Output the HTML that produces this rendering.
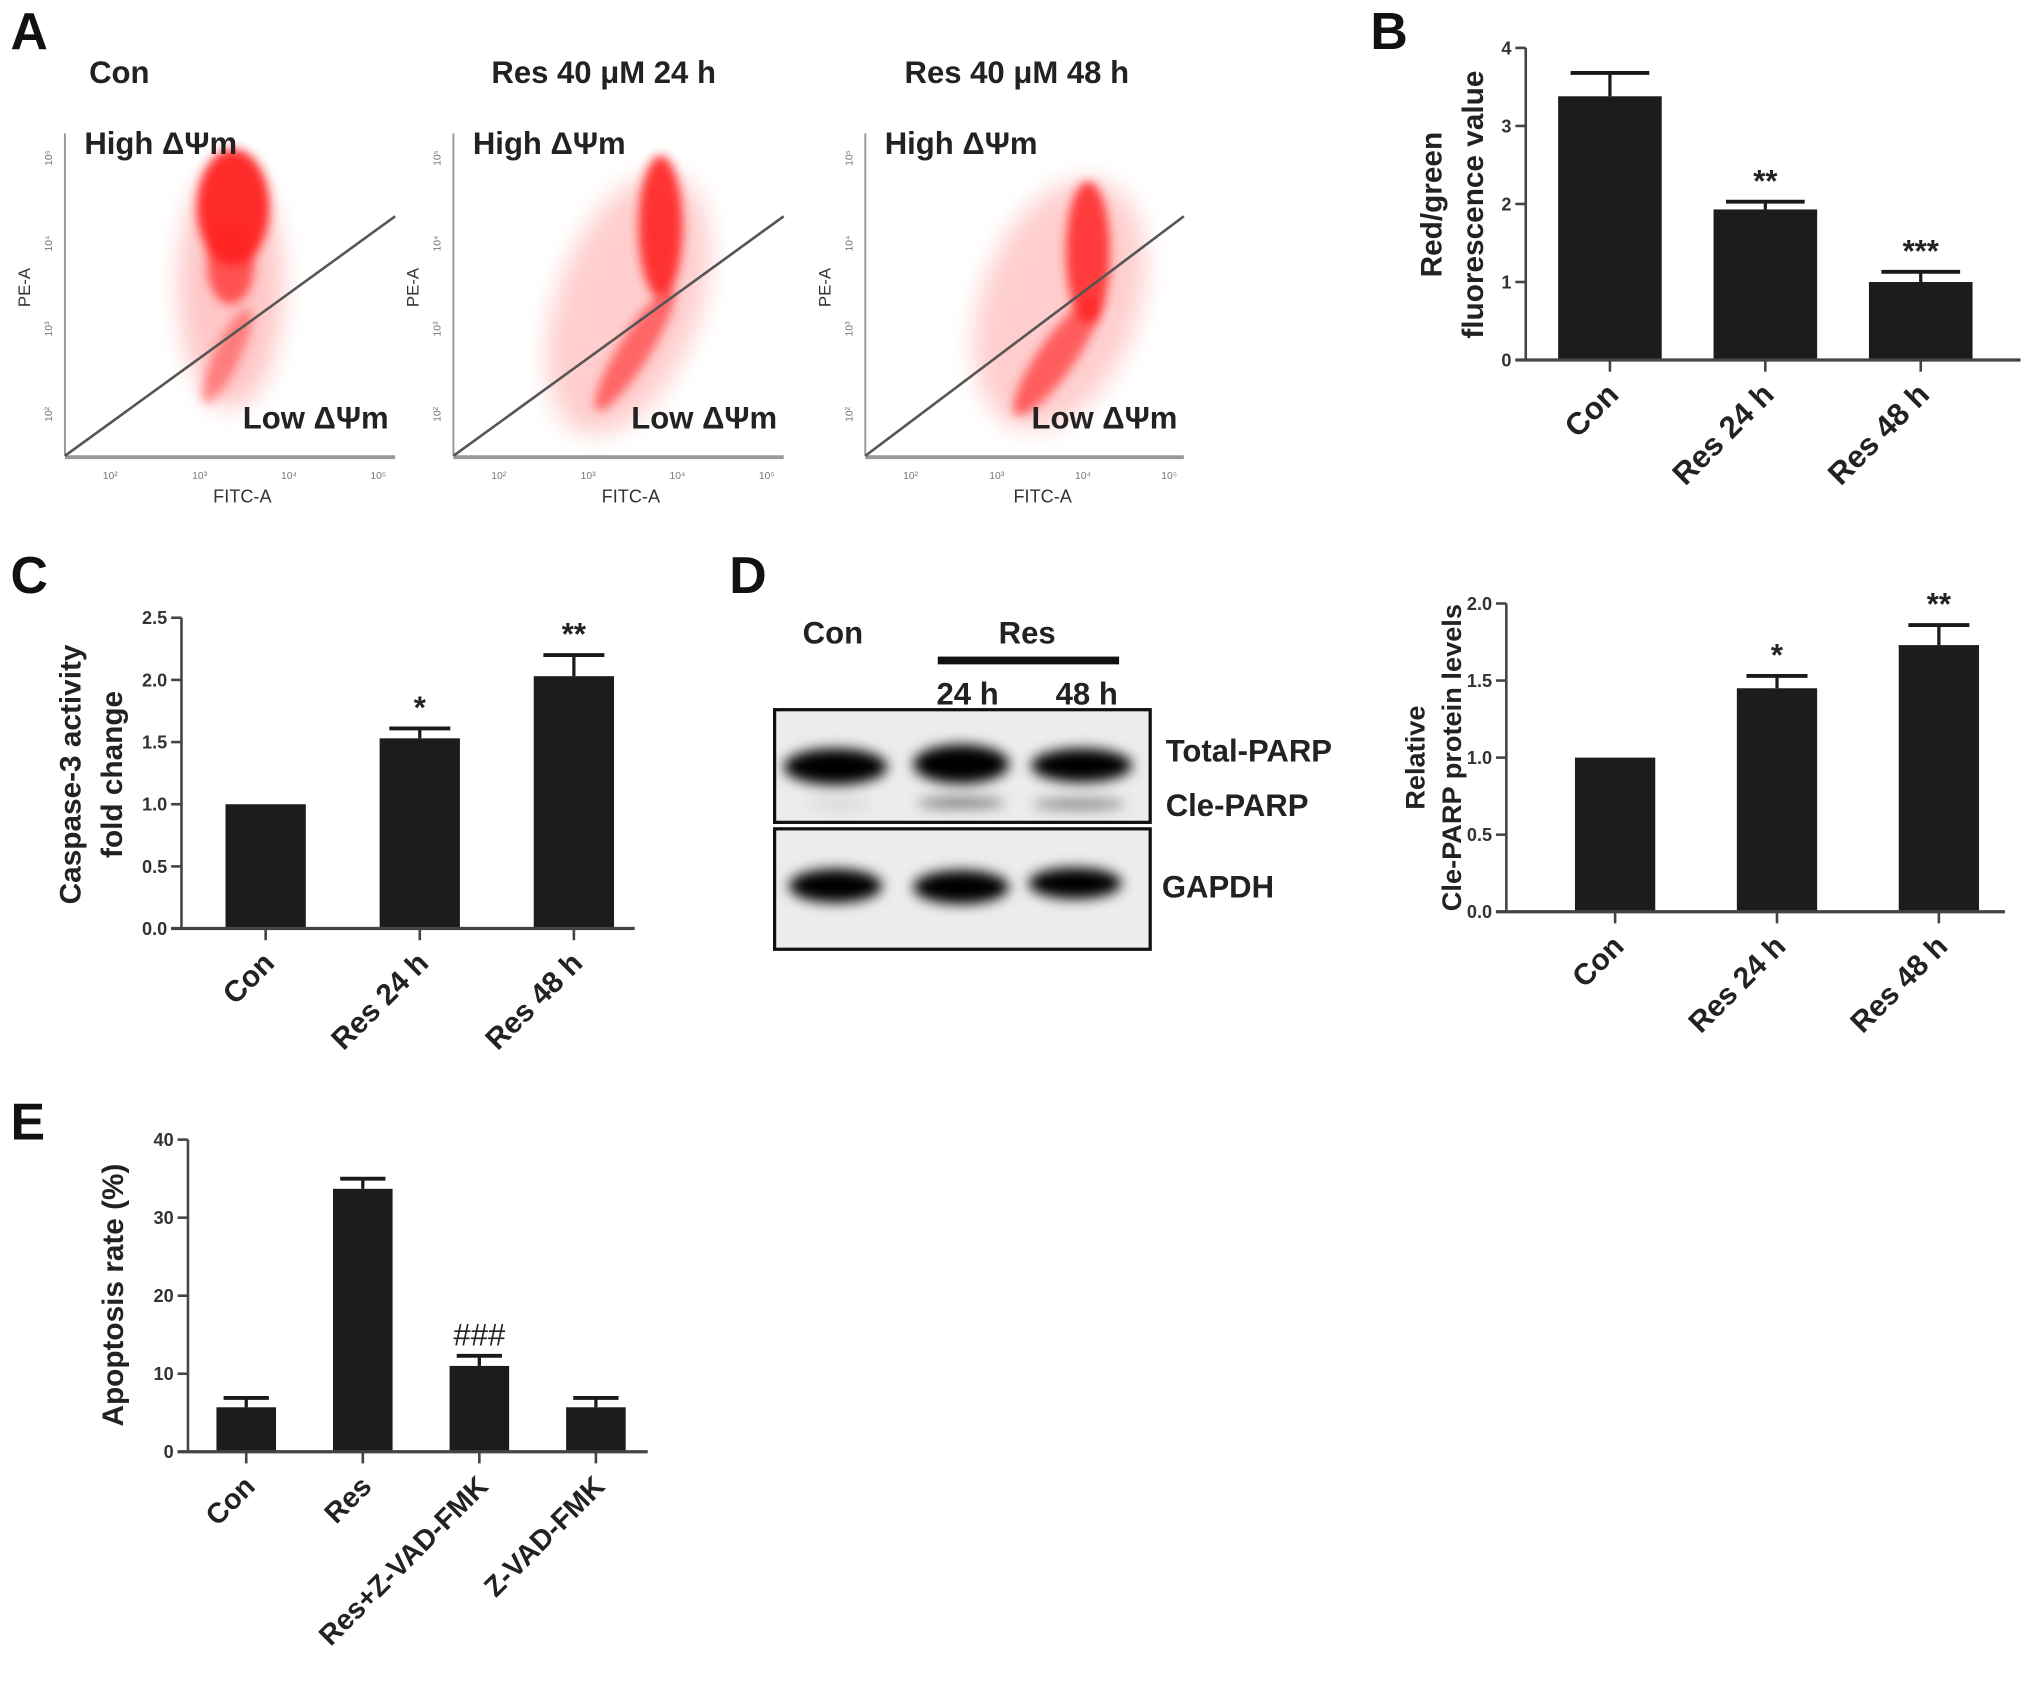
<!DOCTYPE html>
<html><head><meta charset="utf-8"><title>Figure</title>
<style>
html,body{margin:0;padding:0;background:#fff;}
svg{display:block;font-family:"Liberation Sans",Arial,sans-serif;}
</style></head>
<body>
<svg id="fig" width="2031" height="1703" viewBox="0 0 1568 1315" xmlns="http://www.w3.org/2000/svg">
<defs>
<filter id="blur4" x="-50%" y="-50%" width="200%" height="200%"><feGaussianBlur stdDeviation="4"/></filter>
<filter id="blur8" x="-50%" y="-50%" width="200%" height="200%"><feGaussianBlur stdDeviation="9"/></filter>
<filter id="blurb" x="-50%" y="-50%" width="200%" height="200%"><feGaussianBlur stdDeviation="5"/></filter>
</defs>
<g id="root"></g>
</svg>
<script>
// ---- Panel B data ----
const bCats = ["Con", "Res 24 h", "Res 48 h"];
const bVals = [3.38, 1.93, 1.00];
const bErrs = [0.30, 0.10, 0.13];
const bStars = ["", "**", "***"];
const bTicks = [0, 1, 2, 3, 4];
// ---- Panel C data ----
const cCats = ["Con", "Res 24 h", "Res 48 h"];
const cVals = [1.00, 1.53, 2.03];
const cErrs = [0, 0.08, 0.17];
const cStars = ["", "*", "**"];
const cTicks = [0, 0.5, 1.0, 1.5, 2.0, 2.5];
// ---- Panel D chart data ----
const dCats = ["Con", "Res 24 h", "Res 48 h"];
const dVals = [1.00, 1.45, 1.73];
const dErrs = [0, 0.08, 0.13];
const dStars = ["", "*", "**"];
const dTicks = [0, 0.5, 1.0, 1.5, 2.0];
// ---- Panel E data ----
const eCats = ["Con", "Res", "Res+Z-VAD-FMK", "Z-VAD-FMK"];
const eVals = [5.7, 33.7, 11.0, 5.7];
const eErrs = [1.2, 1.3, 1.3, 1.2];
const eStars = ["", "", "###", ""];
const eTicks = [0, 10, 20, 30, 40];

const NS = "http://www.w3.org/2000/svg";
const root = document.getElementById('root');
function mk(tag, attrs, parent, text) {
  const e = document.createElementNS(NS, tag);
  for (const k in attrs) e.setAttribute(k, attrs[k]);
  if (text !== undefined) e.textContent = text;
  (parent || root).appendChild(e);
  return e;
}

function barChart(o) {
  const g = mk('g', {});
  
  
  const max = o.ticks[o.ticks.length - 1];
  const y = v => o.y0 - (v / max) * (o.y0 - o.yTop);
  const x = i => o.xFirst + i * o.step;
  o.vals.forEach((v, i) => {
    const cx = x(i);
    const top = y(v + o.errs[i]);
    if (o.errs[i] > 0) {
      const el = mk('line', {x1: cx, x2: cx, y1: y(v), y2: top, stroke: '#1a1a1a', 'stroke-width': 2.5}, g);
      
      
      const cap = mk('line', {x1: cx - o.bw * 0.38, x2: cx + o.bw * 0.38, y1: top, y2: top, stroke: '#1a1a1a', 'stroke-width': 3}, g);
      
      
    }
    const r = mk('rect', {x: cx - o.bw / 2, y: y(v), width: o.bw, height: o.y0 - y(v), fill: '#1c1c1c'}, g);
    
    
    if (o.stars[i]) {
      const s = mk('text', {x: cx, y: top - 8, 'text-anchor': 'middle', 'font-size': o.starSize || 24, fill: '#222', 'font-weight': o.starBold === false ? 'normal' : 'bold'}, g, o.stars[i]);
      
      
    }
    const t = mk('line', {x1: cx, x2: cx, y1: o.y0, y2: o.y0 + 9, stroke: '#444', 'stroke-width': 2}, g);
    
    
    const lab = mk('text', {x: cx + 8, y: o.y0 + 28, 'text-anchor': 'end', 'font-size': o.catSize || 22, 'font-weight': 'bold', fill: '#222', transform: `rotate(-45 ${cx + 8} ${o.y0 + 28})`}, g, o.cats[i]);
    
    
  });
  const ya = mk('line', {x1: o.xAxis, x2: o.xAxis, y1: o.yTop, y2: o.y0, stroke: '#444', 'stroke-width': 2}, g);
  
  
  const xa = mk('line', {x1: o.xAxis - 8, x2: o.xEnd, y1: o.y0, y2: o.y0, stroke: '#444', 'stroke-width': 2.5}, g);
  
  
  o.ticks.forEach(tv => {
    const ty = y(tv);
    const tl = mk('line', {x1: o.xAxis - 8, x2: o.xAxis, y1: ty, y2: ty, stroke: '#444', 'stroke-width': 2}, g);
    
    
    const tt = mk('text', {x: o.xAxis - 11, y: ty + 5, 'text-anchor': 'end', 'font-size': 14, 'font-weight': 'bold', fill: '#333'}, g, o.fmt ? tv.toFixed(1) : String(tv));
    
    
  });
  const cy = o.titleY;
  o.title.forEach((line, k) => {
    const tx = o.titleX[k];
    const yt = mk('text', {x: tx, y: cy, 'text-anchor': 'middle', 'font-size': o.titleSize || 23, 'font-weight': 'bold', fill: '#222', transform: `rotate(-90 ${tx} ${cy})`}, g, line);
    
    
  });
}

[['A', 8, 38], ['B', 1058, 38], ['C', 8, 458], ['D', 563, 458], ['E', 8, 880]].forEach(p => {
  const t = mk('text', {x: p[1], y: p[2], 'font-size': 40, 'font-weight': 'bold', fill: '#111'}, root, p[0]);
  
  
});

// ---- Panel A ----
const aTitles = ["Con", "Res 40 μM 24 h", "Res 40 μM 48 h"];
const aOrigins = [50, 350, 668];
const aTitleX = [92, 466, 785];
aOrigins.forEach((ox, k) => {
  const g = mk('g', {});
  
  
  const tt = mk('text', {x: aTitleX[k], y: 64, 'text-anchor': 'middle', 'font-size': 24, 'font-weight': 'bold', fill: '#222'}, g, aTitles[k]);
  
  
  const w = k === 2 ? 246 : 255;
  const cl = mk('g', {fill: '#ff2020'}, g);
  
  
  if (k === 0) {
    mk('ellipse', {cx: ox + 128, cy: 220, rx: 40, ry: 95, opacity: 0.25, filter: 'url(#blur8)'}, cl);
    mk('ellipse', {cx: ox + 130, cy: 160, rx: 28, ry: 45, opacity: 0.95, filter: 'url(#blur4)'}, cl);
    mk('ellipse', {cx: ox + 128, cy: 205, rx: 18, ry: 30, opacity: 0.7, filter: 'url(#blur4)'}, cl);
    mk('ellipse', {cx: ox + 125, cy: 275, rx: 10, ry: 40, opacity: 0.45, filter: 'url(#blur4)', transform: `rotate(25 ${ox + 125} 275)`}, cl);
  } else if (k === 1) {
    mk('ellipse', {cx: ox + 135, cy: 235, rx: 55, ry: 105, opacity: 0.22, filter: 'url(#blur8)', transform: `rotate(20 ${ox + 135} 235)`}, cl);
    mk('ellipse', {cx: ox + 160, cy: 175, rx: 17, ry: 55, opacity: 0.9, filter: 'url(#blur4)'}, cl);
    mk('ellipse', {cx: ox + 140, cy: 270, rx: 12, ry: 55, opacity: 0.6, filter: 'url(#blur4)', transform: `rotate(32 ${ox + 140} 270)`}, cl);
  } else {
    mk('ellipse', {cx: ox + 150, cy: 235, rx: 60, ry: 100, opacity: 0.22, filter: 'url(#blur8)', transform: `rotate(20 ${ox + 150} 235)`}, cl);
    mk('ellipse', {cx: ox + 172, cy: 195, rx: 17, ry: 55, opacity: 0.85, filter: 'url(#blur4)'}, cl);
    mk('ellipse', {cx: ox + 148, cy: 275, rx: 14, ry: 55, opacity: 0.65, filter: 'url(#blur4)', transform: `rotate(35 ${ox + 148} 275)`}, cl);
  }
  mk('line', {x1: ox, x2: ox, y1: 103, y2: 352, stroke: '#999', 'stroke-width': 1.5}, g);
  mk('line', {x1: ox, x2: ox + w, y1: 353, y2: 353, stroke: '#999', 'stroke-width': 3}, g);
  const gate = mk('line', {x1: ox, y1: 352, x2: ox + w, y2: 167, stroke: '#555', 'stroke-width': 2}, g);
  
  
  const hi = mk('text', {x: ox + 15, y: 119, 'font-size': 24, 'font-weight': 'bold', fill: '#222'}, g, 'High ΔΨm');
  
  
  const lo = mk('text', {x: ox + w - 5, y: 331, 'text-anchor': 'end', 'font-size': 24, 'font-weight': 'bold', fill: '#222'}, g, 'Low ΔΨm');
  
  
  const fx = mk('text', {x: ox + 137, y: 388, 'text-anchor': 'middle', 'font-size': 14, fill: '#333'}, g, 'FITC-A');
  
  
  const py = mk('text', {x: ox - 27, y: 222, 'text-anchor': 'middle', 'font-size': 13, fill: '#333', transform: `rotate(-90 ${ox - 27} 222)`}, g, 'PE-A');
  
  
  ['10²', '10³', '10⁴', '10⁵'].forEach((s, i) => {
    const t = mk('text', {x: ox + 35 + i * 69 * (w / 255), y: 370, 'text-anchor': 'middle', 'font-size': 8, fill: '#777'}, g, s);
    
    const t2 = mk('text', {x: ox - 10, y: 122 + i * 66, 'text-anchor': 'middle', 'font-size': 8, fill: '#777', transform: `rotate(-90 ${ox - 10} ${122 + i * 66})`}, g, ['10⁵', '10⁴', '10³', '10²'][i]);
    
  });
});

barChart({name: 'chart-b', cats: bCats, vals: bVals, errs: bErrs, stars: bStars, ticks: bTicks,
  xAxis: 1178, yTop: 37, y0: 278, xFirst: 1243, step: 120, bw: 80, xEnd: 1560,
  title: ['Red/green', 'fluorescence value'], titleX: [1113, 1145], titleY: 158, catSize: 24});
barChart({name: 'chart-c', cats: cCats, vals: cVals, errs: cErrs, stars: cStars, ticks: cTicks, fmt: true,
  xAxis: 140, yTop: 477, y0: 717, xFirst: 205, step: 119, bw: 62, xEnd: 490,
  title: ['Caspase-3 activity', 'fold change'], titleX: [62, 94], titleY: 598, catSize: 23});
barChart({name: 'chart-d', cats: dCats, vals: dVals, errs: dErrs, stars: dStars, ticks: dTicks, fmt: true,
  xAxis: 1163, yTop: 466, y0: 704, xFirst: 1247, step: 125, bw: 62, xEnd: 1548,
  title: ['Relative', 'Cle-PARP protein levels'], titleX: [1100, 1128], titleY: 585, catSize: 23, titleSize: 21});
barChart({name: 'chart-e', cats: eCats, vals: eVals, errs: eErrs, stars: eStars, ticks: eTicks,
  xAxis: 145, yTop: 880, y0: 1121, xFirst: 190, step: 90, bw: 46, xEnd: 500,
  title: ['Apoptosis rate (%)'], titleX: [95], titleY: 1000, catSize: 22, starBold: false, starSize: 24});

(function () {
  const g = mk('g', {});
  
  
  const lbl = (t, x, y, a, n) => {
    const e = mk('text', {x: x, y: y, 'text-anchor': a, 'font-size': 24, 'font-weight': 'bold', fill: '#222'}, g, t);
    
    
  };
  lbl('Con', 643, 497, 'middle', 'lane-label-con');
  lbl('Res', 793, 497, 'middle', 'lane-label-res');
  mk('rect', {x: 724, y: 507, width: 140, height: 6, fill: '#111'}, g);
  lbl('24 h', 747, 544, 'middle', 'lane-label-24h');
  lbl('48 h', 839, 544, 'middle', 'lane-label-48h');
  mk('rect', {x: 598, y: 548, width: 290, height: 87, fill: '#ececec', stroke: '#111', 'stroke-width': 2.5}, g);
  mk('rect', {x: 598, y: 640, width: 290, height: 93, fill: '#ececec', stroke: '#111', 'stroke-width': 2.5}, g);
  const bands = mk('g', {fill: '#000', filter: 'url(#blurb)'}, g);
  
  mk('ellipse', {cx: 645, cy: 592, rx: 40, ry: 14}, bands);
  mk('ellipse', {cx: 742, cy: 590, rx: 37, ry: 15}, bands);
  mk('ellipse', {cx: 835, cy: 591, rx: 39, ry: 13}, bands);
  mk('ellipse', {cx: 645, cy: 684, rx: 36, ry: 13}, bands);
  mk('ellipse', {cx: 742, cy: 685, rx: 37, ry: 13}, bands);
  mk('ellipse', {cx: 830, cy: 682, rx: 36, ry: 12}, bands);
  mk('ellipse', {cx: 742, cy: 620, rx: 34, ry: 4, opacity: 0.5}, bands);
  mk('ellipse', {cx: 833, cy: 621, rx: 36, ry: 4, opacity: 0.45}, bands);
  mk('ellipse', {cx: 648, cy: 621, rx: 25, ry: 3, opacity: 0.12}, bands);
  lbl('Total-PARP', 900, 588, 'start', 'band-label-total-parp');
  lbl('Cle-PARP', 900, 630, 'start', 'band-label-cle-parp');
  lbl('GAPDH', 897, 693, 'start', 'band-label-gapdh');
})();
</script>
</body></html>
